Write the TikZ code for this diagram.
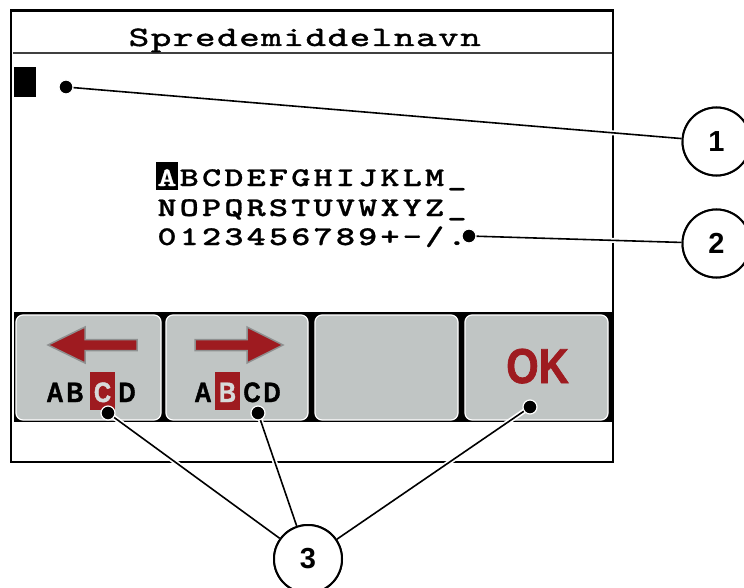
\documentclass[tikz,border=0pt]{standalone}
\usepackage{fontspec}
\setmainfont{Liberation Sans}
\newfontfamily\lblfont[FakeStretch=0.85,FakeBold=1.5]{Liberation Sans}
\newfontfamily\dispfont[FakeStretch=1.35,FakeBold=0.8]{lmmonolt10-bold.otf}
\newfontfamily\titlefont[FakeStretch=1.4,FakeBold=1.5]{lmmono10-regular.otf}
\definecolor{btngrey}{HTML}{C0C5C4}
\definecolor{iconred}{HTML}{9E1B20}
\definecolor{outl}{HTML}{8E9090}
\definecolor{boxletter}{HTML}{D8DADA}
\begin{document}
\begin{tikzpicture}[x=1pt,y=-1pt,
  frame/.style={draw=black,line width=1.6pt},
  btn/.style={fill=btngrey,draw=white,line width=1.2pt,rounded corners=7pt},
  disp/.style={inner sep=0pt,anchor=base,font=\dispfont\fontsize{27}{30}\selectfont},
  titletext/.style={inner sep=0pt,anchor=base,font=\titlefont\fontsize{28}{30}\selectfont},
  callout/.style={circle,draw=black,fill=white,line width=2pt,minimum size=68pt,inner sep=0pt,font=\bfseries\fontsize{29}{30}\selectfont},
  conn/.style={line width=1.6pt,preaction={draw=white,line width=5pt}},
  pin/.style={circle,fill=black,draw=white,line width=1.2pt,minimum size=14pt,inner sep=0pt},
  arrowicon/.style={fill=iconred,draw=outl,line width=1.5pt,line join=miter},
  lbl/.style={inner sep=0pt,anchor=base,font=\lblfont\bfseries\fontsize{28}{30}\selectfont},
]
\useasboundingbox (0,0) rectangle (744,588);
\fill[white] (0,0) rectangle (744,588);
% display frame
\draw[frame] (11,10) rectangle (613,462);
\draw[line width=2.5pt] (11,10.8) -- (613,10.8);
\draw[line width=1.5pt,draw=black!75] (13,53) -- (612,53);
% title
\foreach \c [count=\i from 0] in {S,p,r,e,d,e,m,i,d,d,e,l,n,a,v,n}
  \node[titletext] at ({139+22.1*\i},46) {\c};
% cursor
\fill (14,67) rectangle (36,97);
% alphabet
\fill (156,162) rectangle (178,190);
\node[disp,text=white] (selA) at (167,186) {A};
\foreach \c [count=\i from 1] in {B,C,D,E,F,G,H,I,J,K,L,M,\_}
  \node[disp] at ({167+22.3*\i},186) {\c};
\foreach \c [count=\i from 0] in {N,O,P,Q,R,S,T,U,V,W,X,Y,Z,\_}
  \node[disp] at ({167+22.3*\i},216) {\c};
\foreach \c [count=\i from 0] in {0,1,2,3,4,5,6,7,8,9,+,-,/,.}
  \node[disp] at ({167+22.3*\i},245) {\c};
% softkey band
\fill (14,312) rectangle (612,422);
\draw[btn] (16,315) rectangle (161,420);
\draw[btn] (166,315) rectangle (308,420);
\draw[btn] (315,315) rectangle (458,420);
\draw[btn] (465,315) rectangle (608,420);
% button 1 icon
\draw[arrowicon] (48,345) -- (85,327) -- (85,339.5) -- (137,339.5) -- (137,350.5) -- (85,350.5) -- (85,363) -- cycle;
\fill[iconred] (90,372) rectangle (115,410);
\node[lbl] at (55,402) {A};
\node[lbl] at (75,402) {B};
\node[lbl,text=boxletter] at (102.5,402) {C};
\node[lbl] at (127,402) {D};
% button 2 icon
\draw[arrowicon] (283,345) -- (247,327) -- (247,339.5) -- (195,339.5) -- (195,350.5) -- (247,350.5) -- (247,363) -- cycle;
\fill[iconred] (215,372) rectangle (240,410);
\node[lbl] at (203,402) {A};
\node[lbl,text=boxletter] at (227.5,402) {B};
\node[lbl] at (252,402) {C};
\node[lbl] at (272,402) {D};
% button 4
\node[inner sep=0pt,anchor=base,text=iconred,font=\lblfont\bfseries\fontsize{49}{50}\selectfont] (ok) at (537.5,383) {OK};
% callouts
\coordinate (p1) at (66,87);
\coordinate (p2) at (469,236);
\coordinate (p3a) at (108,413);
\coordinate (p3b) at (258,413);
\coordinate (p3c) at (530,407);
\node[callout] (c1) at (716.5,141.5) {1};
\node[callout] (c2) at (716.5,243.5) {2};
\node[callout] (c3) at (308,559) {3};
\draw[conn] (p1) -- (c1);
\draw[conn] (p2) -- (c2);
\draw[conn] (p3a) -- (c3);
\draw[conn] (p3b) -- (c3);
\draw[conn] (p3c) -- (c3);
\node[callout] at (c1) {1};
\node[callout] at (c2) {2};
\node[callout] at (c3) {3};
\node[pin] at (p1) {};
\node[pin] at (p2) {};
\node[pin] at (p3a) {};
\node[pin] at (p3b) {};
\node[pin] at (p3c) {};
\end{tikzpicture}
\end{document}
